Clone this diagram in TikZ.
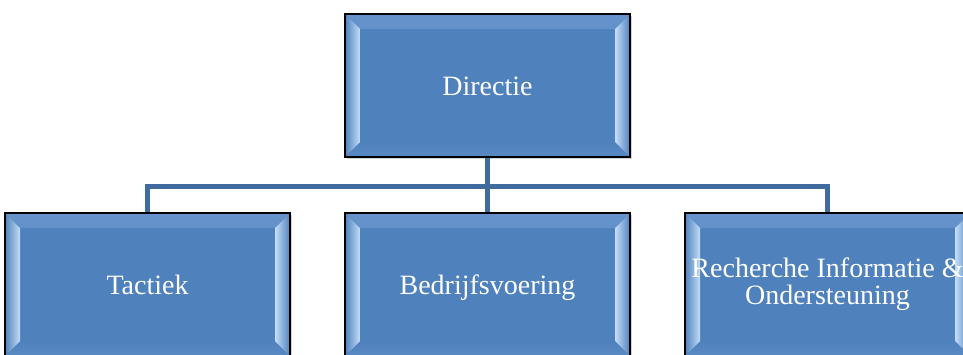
\documentclass[tikz,border=0pt]{standalone}
\usepackage{fontspec}
\setmainfont{Liberation Serif}
\usetikzlibrary{shadows}
\definecolor{boxblue}{HTML}{4F81BD}
\definecolor{bevlight}{HTML}{C4DEF8}
\definecolor{bevtop}{HTML}{6693CB}
\definecolor{bevbot}{HTML}{5A8AC4}
\definecolor{connblue}{HTML}{3F6B9F}
\tikzset{
  bevelbox/.style={draw=black, line width=1.3pt, fill=boxblue,
    minimum width=285pt, minimum height=143pt, inner sep=0pt,
    text=white, font=\fontsize{28pt}{27pt}\selectfont, align=center,
    drop shadow={shadow xshift=1.5pt, shadow yshift=-2pt, opacity=0.35},
    path picture={
      \fill[top color=bevtop, bottom color=boxblue]
        (path picture bounding box.north west) -- (path picture bounding box.north east)
        -- ([shift={(-15pt,-15pt)}]path picture bounding box.north east)
        -- ([shift={(15pt,-15pt)}]path picture bounding box.north west) -- cycle;
      \fill[top color=boxblue, bottom color=bevbot]
        (path picture bounding box.south west) -- (path picture bounding box.south east)
        -- ([shift={(-15pt,15pt)}]path picture bounding box.south east)
        -- ([shift={(15pt,15pt)}]path picture bounding box.south west) -- cycle;
      \fill[left color=boxblue, right color=bevlight]
        (path picture bounding box.north west)
        -- ([shift={(15pt,-15pt)}]path picture bounding box.north west)
        -- ([shift={(15pt,15pt)}]path picture bounding box.south west)
        -- (path picture bounding box.south west) -- cycle;
      \fill[left color=bevlight, right color=boxblue]
        (path picture bounding box.north east)
        -- ([shift={(-15pt,-15pt)}]path picture bounding box.north east)
        -- ([shift={(-15pt,15pt)}]path picture bounding box.south east)
        -- (path picture bounding box.south east) -- cycle;
    }},
  onelabel/.style={text height=19pt, text depth=0pt},
  conn/.style={draw=connblue, line width=5pt}
}
\begin{document}
\begin{tikzpicture}
\useasboundingbox (0pt,0pt) rectangle (963pt,-354pt);
\coordinate (bus) at (487.5pt,-186.5pt);
\node[bevelbox, onelabel] (dir) at (487.5pt,-85.5pt) {Directie};
\node[bevelbox, onelabel] (tac) at (147.5pt,-284.5pt) {Tactiek};
\node[bevelbox, onelabel] (bed) at (487.5pt,-284.5pt) {Bedrijfsvoering};
\node[bevelbox] (rec) at (827.5pt,-284.5pt) {Recherche Informatie \&\\Ondersteuning};
\draw[conn] (dir.south) -- (bus);
\draw[conn] (bus) -- (bed.north);
\draw[conn] (tac.north) |- (bus) -| (rec.north);
\end{tikzpicture}
\end{document}
